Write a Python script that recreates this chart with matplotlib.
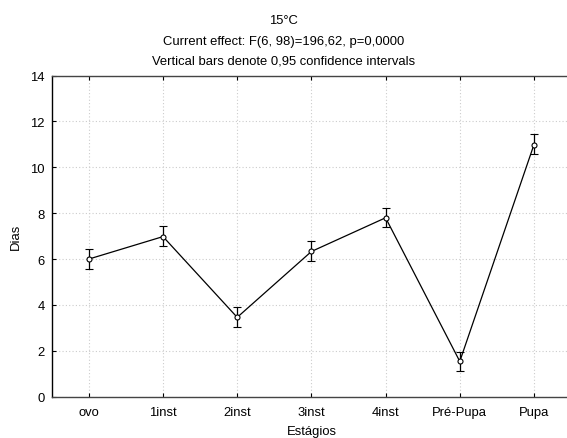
import matplotlib
matplotlib.use("Agg")
import matplotlib.pyplot as plt
import numpy as np

plt.rcParams['font.family'] = ['Liberation Sans', 'DejaVu Sans']

# dados (15 C)
estagios = ['ovo', '1inst', '2inst', '3inst', '4inst', 'Pré-Pupa', 'Pupa']
media = [6.0, 6.98, 3.46, 6.33, 7.8, 1.54, 10.99]
ic_sup = [6.43, 7.42, 3.89, 6.77, 8.23, 1.95, 11.44]
ic_inf = [5.57, 6.56, 3.04, 5.9, 7.38, 1.12, 10.59]

fig = plt.figure(figsize=(5.67, 4.39), dpi=100)
ax = fig.add_axes([0.0912, 0.094, 0.916, 0.7317])

x = np.arange(len(estagios))
err = [np.array(media) - np.array(ic_inf), np.array(ic_sup) - np.array(media)]
ax.errorbar(x, media, yerr=err, color='black', lw=0.9, elinewidth=0.9,
            capsize=2.6, capthick=0.9, marker='o', ms=3.6, mfc='white',
            mec='black', mew=0.8, zorder=3)

ax.set_xlim(-0.5, len(estagios) - 0.5)
ax.set_ylim(0, 14)
ax.set_yticks(np.arange(0, 15, 2))
ax.set_xticks(x)
ax.set_xticklabels(estagios)
ax.grid(True, ls=(0, (1, 2)), color='#cccccc', lw=0.8)
ax.tick_params(direction='in', length=3, width=0.8, labelsize=9.4,
               top=True, colors='black')
ax.tick_params(axis='x', pad=7)
ax.tick_params(axis='y', pad=5)
for s in ax.spines.values():
    s.set_color('#444444')
    s.set_linewidth(1.0)
ax.spines['left'].set_color('black')

ax.set_xlabel('Estágios', fontsize=9.4, labelpad=5)
ax.set_ylabel('Dias', fontsize=9.4, labelpad=6)

fig.text(0.5, 1 - 21.5 / 439, '15°C', ha='center', va='center', fontsize=9.4)
fig.text(0.5, 1 - 41.5 / 439, 'Current effect: F(6, 98)=196,62, p=0,0000',
         ha='center', va='center', fontsize=9.4)
fig.text(0.5, 1 - 61.5 / 439, 'Vertical bars denote 0,95 confidence intervals',
         ha='center', va='center', fontsize=9.4)

fig.savefig('out.png', dpi=100)
